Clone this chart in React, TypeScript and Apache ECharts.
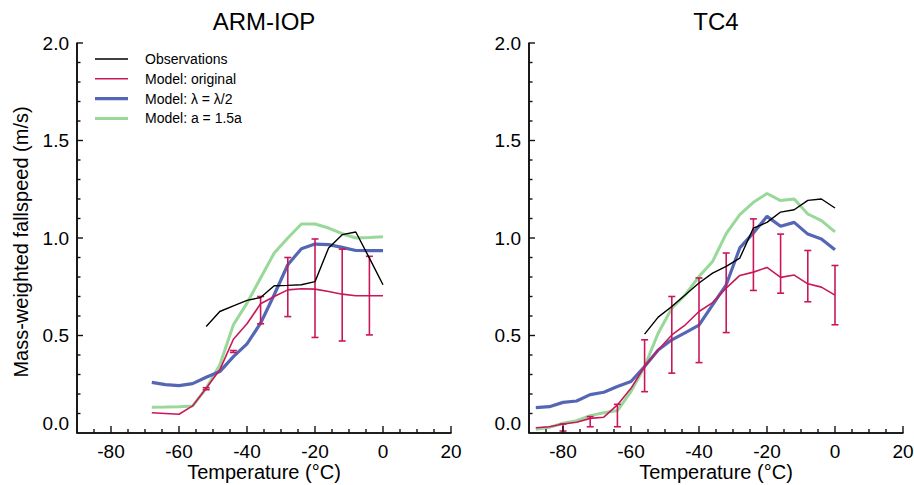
import React, { useEffect, useRef } from "react";
import * as echarts from "echarts";

// ---------- data ----------
const legendNames = ["Observations", "Model: original", "Model: λ = λ/2", "Model: a = 1.5a"];
const xTickLabels = [-80, -60, -40, -20, 0, 20];
const yTickLabels = [0, 0.5, 1, 1.5, 2];

// ARM-IOP
const armModelT = [-68, -64, -60, -56, -52, -48, -44, -40, -36, -32, -28, -24, -20, -16, -12, -8, -4, 0];
const armOriginal = [0.104, 0.1, 0.096, 0.139, 0.229, 0.324, 0.481, 0.56, 0.663, 0.7, 0.734, 0.74, 0.738, 0.726, 0.712, 0.704, 0.704, 0.704];
const armLambda = [0.26, 0.248, 0.243, 0.253, 0.286, 0.315, 0.392, 0.457, 0.563, 0.709, 0.863, 0.945, 0.969, 0.966, 0.952, 0.936, 0.935, 0.935];
const armA = [0.132, 0.133, 0.135, 0.139, 0.229, 0.349, 0.555, 0.666, 0.795, 0.923, 1.0, 1.072, 1.072, 1.051, 1.022, 1.0, 1.003, 1.007];
const armObsT = [-52, -48, -44, -40, -36, -32, -28, -24, -20, -16, -12, -8, -4, 0];
const armObs = [0.546, 0.623, 0.652, 0.68, 0.695, 0.755, 0.757, 0.76, 0.776, 0.949, 1.017, 1.031, 0.897, 0.76];
const armErrT = [-52, -44, -36, -28, -20, -12, -4];
const armErrLow = [0.222, 0.413, 0.56, 0.597, 0.49, 0.472, 0.503];
const armErrHigh = [0.232, 0.423, 0.7, 0.9, 0.995, 0.943, 0.906];

// TC4
const tcModelT = [-88, -84, -80, -76, -72, -68, -64, -60, -56, -52, -48, -44, -40, -36, -32, -28, -24, -20, -16, -12, -8, -4, 0];
const tcOriginal = [0.027, 0.032, 0.046, 0.055, 0.075, 0.081, 0.144, 0.229, 0.341, 0.426, 0.503, 0.555, 0.623, 0.669, 0.743, 0.808, 0.825, 0.849, 0.798, 0.81, 0.765, 0.748, 0.707];
const tcLambda = [0.13, 0.135, 0.157, 0.164, 0.197, 0.209, 0.238, 0.264, 0.341, 0.426, 0.478, 0.515, 0.553, 0.657, 0.76, 0.949, 1.026, 1.111, 1.06, 1.08, 1.02, 0.995, 0.94];
const tcA = [0.019, 0.029, 0.05, 0.063, 0.089, 0.104, 0.115, 0.212, 0.341, 0.512, 0.64, 0.709, 0.803, 0.88, 1.022, 1.12, 1.183, 1.228, 1.192, 1.2, 1.123, 1.089, 1.031];
const tcObsT = [-56, -52, -48, -44, -40, -36, -32, -28, -24, -20, -16, -12, -8, -4, 0];
const tcObs = [0.507, 0.594, 0.649, 0.709, 0.769, 0.82, 0.854, 0.897, 1.051, 1.08, 1.133, 1.145, 1.193, 1.2, 1.154];
const tcErrT = [-80, -72, -64, -56, -48, -40, -32, -24, -16, -8, 0];
const tcErrLow = [0.01, 0.032, 0.032, 0.212, 0.307, 0.361, 0.515, 0.731, 0.717, 0.673, 0.555];
const tcErrHigh = [0.046, 0.084, 0.147, 0.478, 0.7, 0.795, 0.923, 1.098, 1.02, 0.936, 0.859];

// ---------- layout & styles ----------
const FONT = '"Liberation Sans", Arial, Helvetica, sans-serif';
const AXIS_COLOR = "#111111";
const C_OBS = "#000000";
const C_ORIG = "#C8185A";
const C_LAMBDA = "#5566B4";
const C_A = "#98D898";
const legendColors = [C_OBS, C_ORIG, C_LAMBDA, C_A];
const legendWidths = [1.4, 1.6, 3.2, 3];
const X_MIN = -90;
const X_MAX = 20;
const Y_MIN = 0;
const Y_MAX = 2;
const GRID_TOP = 43;
const GRID_W = 374;
const GRID_H = 390;
const GRID_LEFTS = [77, 529];

const pairs = (xs: number[], ys: number[]) => xs.map((x, i) => [x, ys[i]]);
const triples = (xs: number[], lo: number[], hi: number[]) => xs.map((x, i) => [x, lo[i], hi[i]]);

function buildAxes(gi: number) {
  const xAxis = {
    type: "value",
    gridIndex: gi,
    position: "bottom",
    min: X_MIN,
    max: X_MAX,
    interval: 5,
    axisLine: { show: true, onZero: false, lineStyle: { color: AXIS_COLOR, width: 1.6 } },
    axisTick: { show: false },
    axisLabel: { show: true, customValues: xTickLabels, fontSize: 19, fontFamily: FONT, color: "#000", margin: 9 },
    splitLine: { show: false },
  };
  const yAxis = {
    type: "value",
    gridIndex: gi,
    position: "left",
    min: Y_MIN,
    max: Y_MAX,
    interval: 0.5,
    axisLine: { show: true, onZero: false, lineStyle: { color: AXIS_COLOR, width: 1.6 } },
    axisTick: { show: false },
    axisLabel: {
      show: true,
      fontSize: 19,
      fontFamily: FONT,
      color: "#000",
      margin: 8,
      verticalAlignMinLabel: "bottom",
      formatter: (v: number) => v.toFixed(1),
    },
    splitLine: { show: false },
  };
  return { x: xAxis, y: yAxis };
}

function errRender(params: any, api: any) {
  const x = api.value(0);
  const lo = api.value(1);
  const hi = api.value(2);
  const pt = api.coord([x, hi]);
  const pb = api.coord([x, lo]);
  const w = 3.5;
  const style = { stroke: C_ORIG, lineWidth: 1.6 };
  return {
    type: "group",
    children: [
      { type: "line", shape: { x1: pt[0], y1: pt[1], x2: pb[0], y2: pb[1] }, style },
      { type: "line", shape: { x1: pt[0] - w, y1: pt[1], x2: pt[0] + w, y2: pt[1] }, style },
      { type: "line", shape: { x1: pb[0] - w, y1: pb[1], x2: pb[0] + w, y2: pb[1] }, style },
    ],
  };
}

function buildSeries(ai: number, d: any) {
  const common = { type: "line", xAxisIndex: ai, yAxisIndex: ai, symbol: "none", showSymbol: false, z: 3 };
  return [
    { ...common, name: legendNames[3], data: pairs(d.modelT, d.a), lineStyle: { color: C_A, width: 3 }, itemStyle: { color: C_A } },
    { ...common, name: legendNames[2], data: pairs(d.modelT, d.lambda), lineStyle: { color: C_LAMBDA, width: 3.2 }, itemStyle: { color: C_LAMBDA } },
    { ...common, name: legendNames[1], data: pairs(d.modelT, d.orig), lineStyle: { color: C_ORIG, width: 1.6 }, itemStyle: { color: C_ORIG } },
    {
      type: "custom",
      xAxisIndex: ai,
      yAxisIndex: ai,
      renderItem: errRender,
      encode: { x: 0, y: [1, 2] },
      data: triples(d.errT, d.errLow, d.errHigh),
      z: 4,
    },
    { ...common, name: legendNames[0], data: pairs(d.obsT, d.obs), lineStyle: { color: C_OBS, width: 1.4 }, itemStyle: { color: C_OBS }, z: 5 },
  ];
}

function legendGraphics() {
  const out: any[] = [];
  legendNames.forEach((name, i) => {
    const y = 59 + i * 19.8;
    out.push({
      type: "line",
      shape: { x1: 95, y1: y, x2: 128, y2: y },
      style: { stroke: legendColors[i], lineWidth: legendWidths[i] },
    });
    out.push({
      type: "text",
      x: 145,
      y,
      style: { text: name, fontSize: 14, fontFamily: FONT, fill: "#000", align: "left", verticalAlign: "middle" },
    });
  });
  return out;
}

function textEl(text: string, x: number, y: number, size: number, rotation = 0) {
  return {
    type: "text",
    x,
    y,
    rotation,
    style: { text, fontSize: size, fontFamily: FONT, fill: "#000", align: "center", verticalAlign: "middle" },
  };
}

// Axis frame (spines + inward ticks) for one panel, drawn above everything.
function frameGraphics(left: number) {
  const out: any[] = [];
  const bottom = GRID_TOP + GRID_H;
  const sx = (t: number) => left + ((t - X_MIN) / (X_MAX - X_MIN)) * GRID_W;
  const sy = (v: number) => bottom - ((v - Y_MIN) / (Y_MAX - Y_MIN)) * GRID_H;
  const spine = { stroke: AXIS_COLOR, lineWidth: 1.6 };
  const tick = { stroke: AXIS_COLOR, lineWidth: 1.4 };
  out.push({ type: "line", z: 100, shape: { x1: left, y1: GRID_TOP, x2: left, y2: bottom }, style: spine });
  out.push({ type: "line", z: 100, shape: { x1: left, y1: bottom, x2: left + GRID_W, y2: bottom }, style: spine });
  for (let t = -85; t <= X_MAX; t += 5) {
    const len = xTickLabels.indexOf(t) >= 0 ? 7 : 4;
    const x = sx(t);
    out.push({ type: "line", z: 100, shape: { x1: x, y1: bottom, x2: x, y2: bottom - len }, style: tick });
  }
  for (let k = 1; k <= 20; k++) {
    const v = k / 10;
    const len = yTickLabels.some((m) => Math.abs(m - v) < 1e-9) ? 6 : 3.5;
    const y = sy(v);
    out.push({ type: "line", z: 100, shape: { x1: left, y1: y, x2: left + len, y2: y }, style: tick });
  }
  return out;
}

export default function App() {
  const ref = useRef<HTMLDivElement>(null);
  useEffect(() => {
    if (!ref.current) return;
    const chart = echarts.init(ref.current, null, { renderer: "svg" });
    const leftAxes = buildAxes(0);
    const rightAxes = buildAxes(1);
    const option: any = {
      animation: false,
      grid: GRID_LEFTS.map((left) => ({ left, top: GRID_TOP, width: GRID_W, height: GRID_H, outerBoundsMode: "none" })),
      xAxis: [leftAxes.x, rightAxes.x],
      yAxis: [leftAxes.y, rightAxes.y],
      graphic: [
        textEl("ARM-IOP", 264, 21, 24),
        textEl("TC4", 716, 21, 24),
        textEl("Temperature (°C)", 264, 472, 20),
        textEl("Temperature (°C)", 716, 472, 20),
        textEl("Mass-weighted fallspeed (m/s)", 21, 242, 20, Math.PI / 2),
        ...legendGraphics(),
        ...frameGraphics(GRID_LEFTS[0]),
        ...frameGraphics(GRID_LEFTS[1]),
      ],
      series: [
        ...buildSeries(0, {
          modelT: armModelT, a: armA, lambda: armLambda, orig: armOriginal,
          errT: armErrT, errLow: armErrLow, errHigh: armErrHigh, obsT: armObsT, obs: armObs,
        }),
        ...buildSeries(1, {
          modelT: tcModelT, a: tcA, lambda: tcLambda, orig: tcOriginal,
          errT: tcErrT, errLow: tcErrLow, errHigh: tcErrHigh, obsT: tcObsT, obs: tcObs,
        }),
      ],
    };
    chart.setOption(option);
    return () => chart.dispose();
  }, []);
  return <div ref={ref} style={{ position: "absolute", left: 0, top: 0, width: 914, height: 485 }} />;
}
